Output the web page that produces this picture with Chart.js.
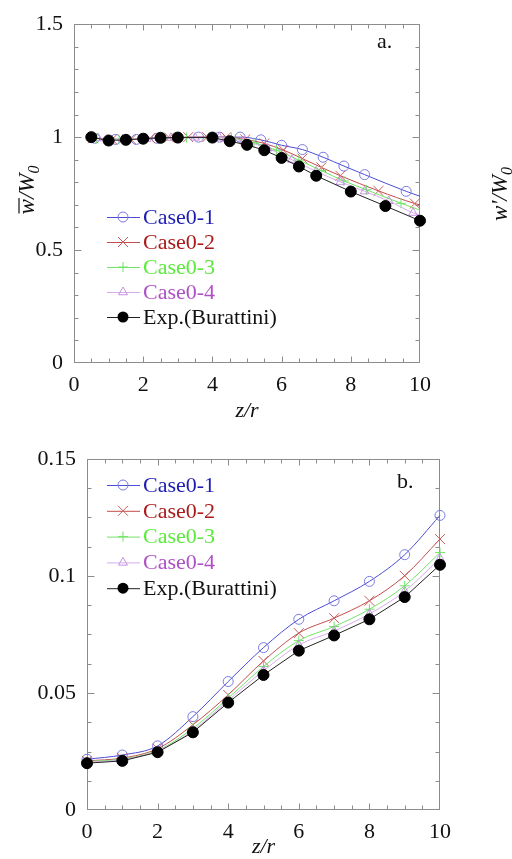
<!DOCTYPE html>
<html lang="en">
<head>
<meta charset="UTF-8">
<title>Axial velocity along the jet axis</title>
<script src="https://cdn.jsdelivr.net/npm/chart.js"></script>
<style>
  body { margin: 0; background: #fff; width: 512px; height: 859px; position: relative; overflow: hidden; }
  canvas { position: absolute; left: 0; }
  #chartA { top: 0; }
  #chartB { top: 430px; }
</style>
</head>
<body>
<canvas id="chartA" width="512" height="430"></canvas>
<canvas id="chartB" width="512" height="429"></canvas>

<script>
const FONT = '"Liberation Serif", "Times New Roman", serif';

// (a) mean axial velocity w/W0 along z/r
const aExpZ = [0.5, 1, 1.5, 2, 2.5, 3, 4, 4.5, 5, 5.5, 6, 6.5, 7, 8, 9, 10];
const aExpW = [1.0, 0.985, 0.988, 0.993, 0.997, 0.998, 0.998, 0.982, 0.966, 0.942, 0.908, 0.870, 0.829, 0.759, 0.695, 0.630];

const aCase1Z = [0.6, 1.2, 1.8, 2.4, 3.0, 3.6, 4.2, 4.8, 5.4, 6.0, 6.6, 7.2, 7.8, 8.4, 9.6, 10];
const aCase1W = [0.995, 0.99, 0.99, 0.995, 0.998, 1.0, 1.0, 1.0, 0.988, 0.964, 0.945, 0.911, 0.872, 0.834, 0.760, 0.738];

const aCase2Z = [0.55, 1.1, 1.65, 2.2, 2.75, 3.3, 3.85, 4.4, 4.95, 5.5, 6.05, 6.6, 7.15, 7.7, 8.8, 9.85, 10];
const aCase2W = [0.995, 0.99, 0.99, 0.995, 0.998, 1.0, 1.0, 1.0, 0.99, 0.972, 0.943, 0.905, 0.866, 0.829, 0.762, 0.706, 0.700];

const aCase3Z = [0.65, 1.3, 1.95, 2.6, 3.25, 3.9, 4.55, 5.2, 5.85, 6.5, 7.15, 7.8, 8.45, 9.45, 10];
const aCase3W = [0.995, 0.99, 0.992, 0.996, 0.998, 0.998, 0.995, 0.975, 0.942, 0.898, 0.852, 0.806, 0.767, 0.707, 0.677];

const aCase4Z = [0.7, 1.4, 2.1, 2.8, 3.5, 4.2, 4.9, 5.6, 6.3, 7.0, 7.7, 8.4, 9.1, 9.8, 10];
const aCase4W = [0.995, 0.99, 0.993, 0.997, 0.998, 0.998, 0.982, 0.950, 0.900, 0.848, 0.802, 0.760, 0.717, 0.665, 0.655];

// (b) velocity fluctuation w'/W0 along z/r
const bZ = [0, 1, 2, 3, 4, 5, 6, 7, 8, 9, 10];
const bCase1 = [0.0217, 0.0235, 0.0274, 0.0399, 0.0549, 0.0694, 0.0815, 0.0894, 0.0977, 0.1091, 0.1259];
const bCase2 = [0.0210, 0.0222, 0.0262, 0.0364, 0.0492, 0.0637, 0.0756, 0.0820, 0.0894, 0.1001, 0.1158];
const bCase3 = [0.0207, 0.0218, 0.0255, 0.0349, 0.0478, 0.0613, 0.0724, 0.0784, 0.0858, 0.0958, 0.1100];
const bCase4 = [0.0204, 0.0215, 0.0252, 0.0340, 0.0468, 0.0595, 0.0705, 0.0765, 0.0838, 0.0935, 0.1075];
const bExp   = [0.0200, 0.0210, 0.0247, 0.0332, 0.0459, 0.0577, 0.0681, 0.0746, 0.0815, 0.0910, 0.1048];

const names = ['Case0-1', 'Case0-2', 'Case0-3', 'Case0-4', 'Exp.(Burattini)'];
const xTicks = [0, 2, 4, 6, 8, 10];
const aYTicks = [0, 0.5, 1, 1.5];
const bYTicks = [0, 0.05, 0.1, 0.15];

const styles = [
  { line: '#4c4cd4', mark: '#7a7ae0', text: '#1c1cb2', shape: 'circle' },
  { line: '#c44c4c', mark: '#cc5c5c', text: '#aa1a1a', shape: 'crossRot' },
  { line: '#70e466', mark: '#70e466', text: '#5cea3c', shape: 'cross' },
  { line: '#d6acec', mark: '#c492e2', text: '#b050c6', shape: 'triangle' },
  { line: '#222222', mark: '#000000', text: '#111111', shape: 'dot' }
];

const pairs = (xs, ys) => xs.map((x, i) => ({ x: x, y: ys[i] }));

function makeDataset(k, pts, hideEnd) {
  const s = styles[k];
  const isExp = s.shape === 'dot';
  const r = isExp ? 5.5 : (s.shape === 'crossRot' ? 7 : 5);
  return {
    label: names[k],
    data: pts,
    borderColor: s.line,
    borderWidth: 1,
    pointStyle: isExp ? 'circle' : s.shape,
    pointRadius: c => (hideEnd && !isExp && c.raw && c.raw.x >= 10) ? 0 : r,
    pointHoverRadius: r,
    pointBorderColor: s.mark,
    pointBackgroundColor: isExp ? '#000' : 'rgba(0,0,0,0)',
    pointBorderWidth: 1,
    cubicInterpolationMode: isExp ? 'default' : 'monotone',
    tension: 0,
    clip: false,
    order: 4 - k
  };
}

// frame with inward ticks on all four sides
const boxTicks = {
  id: 'boxTicks',
  beforeDatasetsDraw(chart, args, o) {
    const { ctx, chartArea: a, scales: { x, y } } = chart;
    const L = Math.round(a.left) + 0.5, R = Math.round(a.right) - 0.5;
    const T = Math.round(a.top) + 0.5, B = Math.round(a.bottom) - 0.5;
    ctx.save();
    ctx.strokeStyle = '#8c8c8c';
    ctx.lineWidth = 1;
    ctx.strokeRect(L, T, R - L, B - T);
    const isMajor = (v, m) => Math.abs(v / m - Math.round(v / m)) < 1e-6;
    ctx.beginPath();
    let n = Math.round((x.max - x.min) / o.xMinor);
    for (let i = 1; i < n; i++) {
      const v = x.min + i * o.xMinor;
      const px = Math.round(x.getPixelForValue(v)) + 0.5;
      const len = isMajor(v, o.xMajor) ? 6 : 4;
      ctx.moveTo(px, B); ctx.lineTo(px, B - len);
      ctx.moveTo(px, T); ctx.lineTo(px, T + len);
    }
    n = Math.round((y.max - y.min) / o.yMinor);
    for (let i = 1; i < n; i++) {
      const v = y.min + i * o.yMinor;
      const py = Math.round(y.getPixelForValue(v)) + 0.5;
      const len = isMajor(v, o.yMajor) ? 7 : 4;
      ctx.moveTo(L, py); ctx.lineTo(L + len, py);
      ctx.moveTo(R, py); ctx.lineTo(R - len, py);
    }
    ctx.stroke();
    ctx.restore();
  }
};

function drawShape(ctx, shape, x, y, r, color) {
  ctx.save();
  ctx.strokeStyle = color;
  ctx.fillStyle = color;
  ctx.lineWidth = 1;
  ctx.beginPath();
  if (shape === 'circle') {
    ctx.arc(x, y, r, 0, Math.PI * 2);
    ctx.stroke();
  } else if (shape === 'dot') {
    ctx.arc(x, y, r, 0, Math.PI * 2);
    ctx.fill();
  } else if (shape === 'crossRot') {
    ctx.moveTo(x - r, y - r); ctx.lineTo(x + r, y + r);
    ctx.moveTo(x - r, y + r); ctx.lineTo(x + r, y - r);
    ctx.stroke();
  } else if (shape === 'cross') {
    ctx.moveTo(x - r, y); ctx.lineTo(x + r, y);
    ctx.moveTo(x, y - r); ctx.lineTo(x, y + r);
    ctx.stroke();
  } else if (shape === 'triangle') {
    ctx.moveTo(x, y - r);
    ctx.lineTo(x + r * 0.9, y + r * 0.55);
    ctx.lineTo(x - r * 0.9, y + r * 0.55);
    ctx.closePath();
    ctx.stroke();
  }
  ctx.restore();
}

// rotated y title: w/W0 with an overbar on w, or w'/W0
function drawYTitle(ctx, cx, cy, prime) {
  const big = 'italic 23px ' + FONT;
  const small = 'italic 16px ' + FONT;
  ctx.save();
  ctx.translate(cx, cy);
  ctx.rotate(-Math.PI / 2);
  ctx.fillStyle = '#111';
  ctx.textBaseline = 'alphabetic';
  ctx.font = big;
  const head = prime ? "w'/W" : 'w/W';
  const wHead = ctx.measureText(head).width;
  const wW = ctx.measureText('w').width;
  ctx.font = small;
  const wSub = ctx.measureText('0').width;
  const total = wHead + wSub;
  const x0 = -total / 2, base = 7;
  ctx.font = big;
  ctx.fillText(head, x0, base);
  ctx.font = small;
  ctx.fillText('0', x0 + wHead, base + 5);
  if (!prime) {
    ctx.strokeStyle = '#111';
    ctx.lineWidth = 1.2;
    ctx.beginPath();
    ctx.moveTo(x0 + 1, base - 15);
    ctx.lineTo(x0 + wW + 1, base - 15);
    ctx.stroke();
  }
  ctx.restore();
}

// legend, panel tag and axis titles
const annotate = {
  id: 'annotate',
  afterDraw(chart, args, o) {
    const ctx = chart.ctx;
    const a = chart.chartArea;
    ctx.save();
    ctx.font = '22px ' + FONT;
    ctx.textBaseline = 'middle';
    names.forEach((name, k) => {
      const s = styles[k];
      const yy = o.legendY + k * o.legendDy;
      ctx.strokeStyle = s.line;
      ctx.lineWidth = 1;
      ctx.beginPath();
      ctx.moveTo(o.legendX, yy + 0.5);
      ctx.lineTo(o.legendX + 33, yy + 0.5);
      ctx.stroke();
      const r = s.shape === 'dot' ? 5.5 : 5;
      drawShape(ctx, s.shape, o.legendX + 16, yy, r, s.mark);
      ctx.fillStyle = s.text;
      ctx.textAlign = 'left';
      ctx.fillText(name, o.legendX + 36, yy + 1);
    });
    ctx.fillStyle = '#111';
    ctx.textAlign = 'left';
    ctx.fillText(o.tag, o.tagX, o.tagY);
    ctx.font = 'italic 22px ' + FONT;
    ctx.textAlign = 'center';
    ctx.fillText('z/r', (a.left + a.right) / 2, o.xTitleY);
    ctx.restore();
    if (o.yTitle) drawYTitle(ctx, o.yTitle.x, o.yTitle.y, false);
    if (o.sideTitle) drawYTitle(ctx, o.sideTitle.x, o.sideTitle.y, true);
  }
};

function scalesFor(yTicks, yMax, yWidth, xHeight) {
  const tickFont = { family: FONT, size: 22 };
  return {
    x: {
      type: 'linear', min: 0, max: 10,
      afterBuildTicks: s => { s.ticks = xTicks.map(v => ({ value: v })); },
      afterFit: s => { s.height = xHeight; },
      grid: { display: false, drawTicks: false },
      border: { display: false },
      ticks: { font: tickFont, color: '#111', padding: 9, maxRotation: 0, callback: v => String(v) }
    },
    y: {
      type: 'linear', min: 0, max: yMax,
      afterBuildTicks: s => { s.ticks = yTicks.map(v => ({ value: v })); },
      afterFit: s => { s.width = yWidth; },
      grid: { display: false, drawTicks: false },
      border: { display: false },
      ticks: { font: tickFont, color: '#111', padding: 11, callback: v => String(v) }
    }
  };
}

new Chart(document.getElementById('chartA'), {
  type: 'line',
  data: {
    datasets: [
      makeDataset(0, pairs(aCase1Z, aCase1W), true),
      makeDataset(1, pairs(aCase2Z, aCase2W), true),
      makeDataset(2, pairs(aCase3Z, aCase3W), true),
      makeDataset(3, pairs(aCase4Z, aCase4W), true),
      makeDataset(4, pairs(aExpZ, aExpW), false)
    ]
  },
  options: {
    responsive: false,
    animation: false,
    layout: { padding: { top: 20, right: 92, left: 0, bottom: 0 } },
    scales: scalesFor(aYTicks, 1.5, 74, 67),
    plugins: {
      legend: { display: false },
      tooltip: { enabled: false },
      boxTicks: { xMinor: 0.5, xMajor: 2, yMinor: 0.1, yMajor: 0.5 },
      annotate: {
        legendX: 107, legendY: 217, legendDy: 25,
        tag: 'a.', tagX: 377, tagY: 42, xTitleY: 411,
        yTitle: { x: 27, y: 190 },
        sideTitle: { x: 500, y: 194 }
      }
    }
  },
  plugins: [boxTicks, annotate]
});

new Chart(document.getElementById('chartB'), {
  type: 'line',
  data: {
    datasets: [
      makeDataset(0, pairs(bZ, bCase1), false),
      makeDataset(1, pairs(bZ, bCase2), false),
      makeDataset(2, pairs(bZ, bCase3), false),
      makeDataset(3, pairs(bZ, bCase4), false),
      makeDataset(4, pairs(bZ, bExp), false)
    ]
  },
  options: {
    responsive: false,
    animation: false,
    layout: { padding: { top: 29, right: 72, left: 0, bottom: 0 } },
    scales: scalesFor(bYTicks, 0.15, 87, 49),
    plugins: {
      legend: { display: false },
      tooltip: { enabled: false },
      boxTicks: { xMinor: 0.5, xMajor: 2, yMinor: 0.0125, yMajor: 0.05 },
      annotate: {
        legendX: 107, legendY: 55, legendDy: 25.8,
        tag: 'b.', tagX: 397, tagY: 52, xTitleY: 417
      }
    }
  },
  plugins: [boxTicks, annotate]
});
</script>
</body>
</html>
